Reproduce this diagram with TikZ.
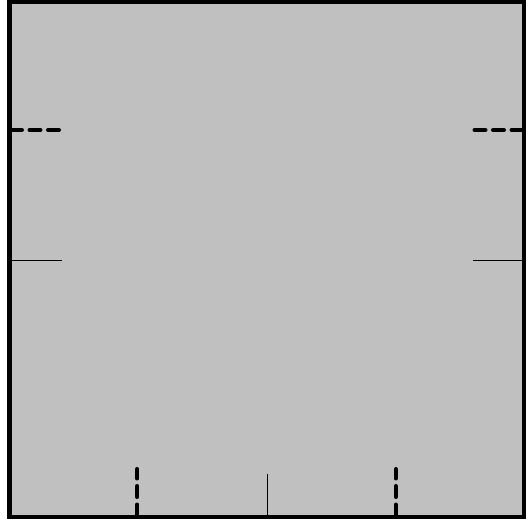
\documentclass[tikz,border=0pt]{standalone}
\usepackage{tikz}
\usetikzlibrary{positioning,calc}
\definecolor{floorgray}{RGB}{192, 192, 192}

\begin{document}
\begin{tikzpicture}[
    x=1pt, y=1pt,
    wall/.style={draw=black, fill=floorgray, line width=4.5pt},
    doormark/.style={black, line width=4pt, line cap=round, dash pattern=on 11pt off 7.5pt},
    gridmark/.style={black, line width=1.3pt}
]
\useasboundingbox (0,0) rectangle (528,520);

% Room outline
\draw[wall] (9.5,3) rectangle (524,518);

% Side marks
\coordinate (lefttop) at (11,390);
\coordinate (leftdoor) at (59.5,390);
\coordinate (leftmid) at (9.5,259.5);
\coordinate (leftline) at (62,259.5);
\coordinate (righttop) at (522.5,390);
\coordinate (rightdoor) at (474,390);
\coordinate (rightmid) at (524,259.5);
\coordinate (rightline) at (473,259.5);

\draw[doormark] (lefttop) -- (leftdoor);
\draw[doormark] (righttop) -- (rightdoor);
\draw[gridmark] (leftmid) -- (leftline);
\draw[gridmark] (rightmid) -- (rightline);

% Bottom marks
\coordinate (botleft) at (137.3,4.5);
\coordinate (botlefttop) at (137.3,51);
\coordinate (botright) at (395.7,4.5);
\coordinate (botrighttop) at (395.7,51);
\coordinate (botmid) at (267.3,3);
\coordinate (botmidtop) at (267.3,46);

\draw[doormark] (botleft) -- (botlefttop);
\draw[doormark] (botright) -- (botrighttop);
\draw[gridmark] (botmid) -- (botmidtop);

\end{tikzpicture}
\end{document}
